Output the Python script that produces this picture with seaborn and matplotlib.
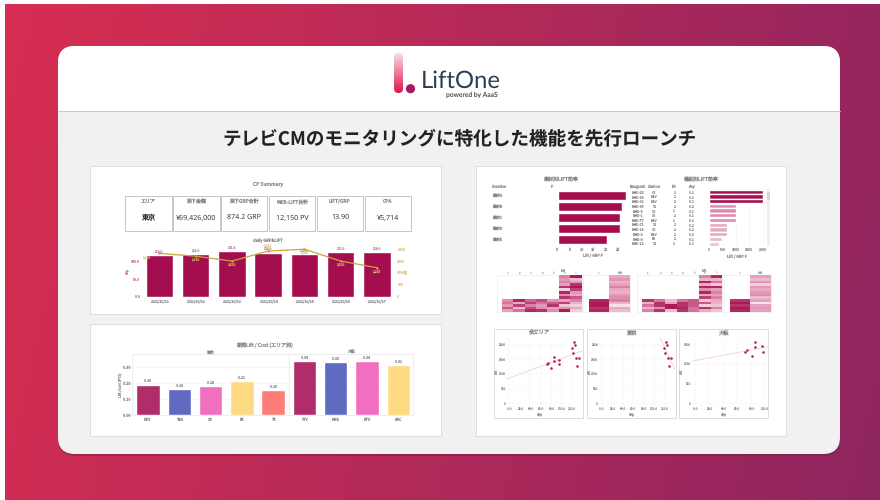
import numpy as np
import pandas as pd
import seaborn as sns
import matplotlib.pyplot as plt
from matplotlib.colors import Normalize
from matplotlib.patches import FancyBboxPatch, Rectangle, Circle

# daily chart
dates = ['2021/10/11', '2021/10/12', '2021/10/13', '2021/10/14', '2021/10/15', '2021/10/16', '2021/10/17']
grp = [119.0, 121.0, 131.3, 126.0, 123.0, 127.0, 128.0]
lift = [1830, 1710, 1500, 1930, 2010, 1500, 1215]

kpi_titles = ['エリア', '投下金額', '投下GRP合計', 'WEB-LIFT合計', 'LIFT/GRP', 'CPA']
kpi_values = ['東京', '¥69,426,000', '874.2 GRP', '12,150 PV', '13.90', '¥5,714']

# lift/cost by station
stations = ['NTV', 'TBS', 'CX', 'EX', 'TX', 'YTV', 'MBS', 'KTV', 'ABC']
lift_cost = [0.19, 0.16, 0.18, 0.21, 0.155, 0.337, 0.33, 0.335, 0.31]
station_colors = ['#B12C6A', '#5F6BC0', '#F26EBE', '#FEDB82', '#FE7D78', '#B12C6A', '#5F6BC0', '#F26EBE', '#FEDB82']

# creative / programme bars
creatives = ['素材A', '素材B', '素材C', '素材D', '素材E']
creative_lift = [28.5, 26.7, 26.2, 26.0, 20.6]
programs = ['BMD-25', 'BMD-64', 'BMD-32', 'BMD-45', 'BMD-5', 'BMD-1', 'BMD-77', 'BMD-71', 'BMD-14', 'BMD-2', 'BMD-8', 'BMD-13']
prog_station = ['CX', 'NTV', 'NTV', 'TX', 'CX', 'CX', 'NTV', 'TX', 'CX', 'NTV', 'EX', 'TX']
prog_lr = [2, 2, 2, 2, 1, 2, 1, 2, 2, 2, 2, 1]
prog_any = ['0.1', '0.1', '0.1', '0.2', '0.1', '0.1', '0.1', '0.2', '0.2', '0.3', '0.1', '0.1']
prog_lift = [2000, 2000, 2000, 1000, 1000, 1000, 1000, 650, 650, 650, 490, 375]

# heatmaps
n = np.nan
heat_a = [
    [n, n, n, n, n, .55, .95],
    [n, n, n, n, n, .45, .25],
    [n, n, n, n, n, .55, .45],
    [n, n, n, n, n, .40, .85],
    [n, n, n, n, n, .85, .95],
    [n, n, n, n, n, .15, .80],
    [n, n, n, n, n, .90, .45],
    [n, n, n, n, n, .50, .35],
    [n, n, n, n, n, .85, .70],
    [.50, .90, .65, .75, .45, .40, .55],
    [.60, .35, .80, .60, .70, .80, .30],
    [.45, .80, .55, .45, .85, .20, .15],
    [.70, .25, .75, .50, .40, .50, .35],
    [.40, .60, .90, .85, .50, .95, .15],
]
heat_a2 = [n, n, n, n, n, n, n, n, n, .9, .95, .95, .85, .9]
heat_a3 = [.35, .45, .30, .40, .55, .35, .30, .45, .50, .55, .30, .05, .35, .25]
heat_b = [
    [n, n, n, n, n, .55, .90],
    [n, n, n, n, n, .30, .30],
    [n, n, n, n, n, .90, .60],
    [n, n, n, n, n, .35, .20],
    [n, n, n, n, n, .90, .90],
    [n, n, n, n, n, .50, .40],
    [n, n, n, n, n, .90, .55],
    [n, n, n, n, n, .35, .40],
    [n, n, n, n, n, .80, .55],
    [.85, .60, .25, .60, .70, .20, .35],
    [.30, .85, .40, .85, .70, .70, .30],
    [.60, .85, .95, .85, .70, .15, .20],
    [.30, .50, .95, .90, .60, .85, .55],
    [.55, .85, .25, .85, .60, .35, .20],
]
heat_b2 = [n, n, n, n, n, n, n, n, n, .85, .95, .85, .95, .9]
heat_b3 = [.40, .25, .45, .15, .45, .35, .45, .50, .25, .40, .05, .40, .45, .40]
heat_ticks = ['1', '2', '3', '4', '5', '6', '7']

# scatter panels
all_grp = [124, 126, 119, 121, 85, 85, 94, 95.5, 74, 71, 80, 127, 132, 129]
all_lift = [2080, 1990, 1886, 1727, 1580, 1443, 1489, 1330, 1375, 1330, 1216, 1545, 1545, 1261]
tokyo_grp = [123.6, 125.5, 119, 120.5, 127, 131.5, 128.3]
tokyo_lift = [2080, 1990, 1886, 1727, 1545, 1545, 1261]
osaka_grp = [85.8, 85.8, 96, 97.5, 72, 74.6, 81.9]
osaka_lift = [1551, 1424, 1458, 1297, 1297, 1356, 1195]

CRIMSON = '#A50E4E'
CRIMSON_TXT = '#C8668E'
GOLD = '#C9A53C'
GOLD_TXT = '#D8C27E'
TXT = '#858585'

sns.set_theme(style='white')
plt.rcParams['font.family'] = ['Noto Sans CJK JP', 'DejaVu Sans']
plt.rcParams['axes.unicode_minus'] = False
plt.rcParams['text.hinting'] = 'no_hinting'

W, H = 880, 500
fig = plt.figure(figsize=(8.8, 5), dpi=100, facecolor='white')
bg = fig.add_axes([0, 0, 1, 1])
bg.axis('off')


def panel_ax(x0, y0, x1, y1):
    ax = fig.add_axes([x0 / W, 1 - y1 / H, (x1 - x0) / W, (y1 - y0) / H])
    ax.patch.set_alpha(0)
    return ax


def small(ax, size=3, color=TXT):
    ax.tick_params(labelsize=size, length=0, pad=1.5, colors=color)
    ax.set_xlabel('')
    ax.set_ylabel('')


def pale_spines(ax, color='#E8E8E8'):
    for s in ax.spines.values():
        s.set_color(color)
        s.set_linewidth(0.5)


# background gradient
gx, gy = np.meshgrid(np.linspace(0, 1, 220), np.linspace(0, 1, 125))
t = 0.88 * gx + 0.12 * gy
c0 = np.array([0xD8, 0x2E, 0x52]) / 255
c1 = np.array([0x8E, 0x25, 0x60]) / 255
grad = c0[None, None, :] * (1 - t[..., None]) + c1[None, None, :] * t[..., None]
bg.imshow(grad, extent=(5, 880, 500, 4), aspect='auto', zorder=0)

# card
bx = dict(boxstyle='round,pad=0,rounding_size=17')
bg.add_patch(FancyBboxPatch((58, 48), 782, 408, fc='#5a1a3a', ec='none', alpha=.35, zorder=1, **bx))
bg.add_patch(FancyBboxPatch((58, 46), 782, 408, fc='#F1F1F1', ec='none', zorder=2, **bx))
bg.add_patch(FancyBboxPatch((58, 46), 782, 95, fc='white', ec='none', zorder=3, **bx))
bg.add_patch(Rectangle((58, 111), 782, 40, fc='#F1F1F1', ec='none', zorder=4))
bg.plot([58, 840], [111, 111], color='#C9C9C9', lw=.7, zorder=5)

# logo
stick = FancyBboxPatch((394, 53), 9, 40, boxstyle='round,pad=0,rounding_size=4.5', fc='none', ec='none', zorder=6)
bg.add_patch(stick)
fade = np.linspace(0, 1, 60)[:, None, None]
stick_col = np.array([0xF6, 0xDD, 0xE3])[None, None, :] / 255 * (1 - fade) + np.array([0xE2, 0x12, 0x4E])[None, None, :] / 255 * fade
im = bg.imshow(stick_col, extent=(394, 403, 93, 53), aspect='auto', zorder=6)
im.set_clip_path(stick)
bg.add_patch(Circle((410.5, 88.7), 4.6, fc='#A5175F', ec='none', zorder=6))
bg.text(420.5, 81, 'LiftOne', family='Lato', fontsize=17.2, color='#2D3E55', ha='left', va='center', zorder=6)
bg.text(498, 94.5, 'powered by AaaS', family='Lato', fontsize=4.8, weight='bold', color='#4A4A4A', ha='right', va='center', zorder=6)

bg.text(459.5, 139, 'テレビCMのモニタリングに特化した機能を先行ローンチ', fontsize=13.4, weight='bold',
        color='#222222', ha='center', va='center', zorder=6)

# white sheets
for x0, y0, x1, y1 in [(91, 167, 441, 314), (91, 325, 441, 436), (477, 167, 786, 436)]:
    bg.add_patch(Rectangle((x0 - 1, y0 - 1), x1 - x0 + 2, y1 - y0 + 2, fc='#DEDEDE', ec='none', zorder=6))
    bg.add_patch(Rectangle((x0, y0), x1 - x0, y1 - y0, fc='white', ec='none', zorder=7))

# KPI boxes
bg.text(268, 184, 'CP Summary', fontsize=3.6, color=TXT, ha='center', va='center', zorder=8)
kpi_edges = [(125.3, 171.7), (173.3, 219.7), (221.3, 267.3), (269, 315.3), (317.3, 362.7), (365, 410.7)]
for (x0, x1), title, value in zip(kpi_edges, kpi_titles, kpi_values):
    bg.add_patch(Rectangle((x0, 196.3), x1 - x0, 34.4, fc='white', ec='#BDBDBD', lw=.6, zorder=8))
    bg.text((x0 + x1) / 2, 201.5, title, fontsize=3.6, color=TXT, ha='center', va='center', zorder=9)
    bg.text((x0 + x1) / 2, 217.5, value, fontsize=5.1, family=['Open Sans', 'Noto Sans CJK JP'], color='#2A2A2A',
            ha='center', va='center', zorder=9)
bg.text(268, 240.5, 'daily GRP&LIFT', fontsize=3, color=TXT, ha='center', va='center', zorder=8)

# daily bars + line
ax = panel_ax(141.7, 245, 395, 296.7)
sns.barplot(x=dates, y=grp, color=CRIMSON, saturation=1, width=.76, ax=ax)
ax.set_ylim(0, 147.6)
ax.set_yticks([0, 50, 100])
ax.set_yticklabels(['0.0', '50.0', '100.0'])
small(ax, 2.6)
ax.tick_params(axis='y', colors=CRIMSON_TXT)
ax.bar_label(ax.containers[0], fmt='%.1f', fontsize=2.4, color=CRIMSON_TXT, padding=1)
sns.despine(ax=ax, left=True, bottom=True)
ax.axhline(0, color='#E8E8E8', lw=.5, zorder=0)
ax2 = ax.twinx()
ax2.patch.set_alpha(0)
sns.lineplot(x=dates, y=lift, color=GOLD, lw=.9, marker='o', ms=1, mec=GOLD, ax=ax2, errorbar=None)
ax2.set_ylim(-30, 2190)
ax2.set_yticks([0, 500, 1000, 1500, 2000])
small(ax2, 2.6, GOLD_TXT)
sns.despine(ax=ax2, left=True, bottom=True, right=True, top=True)
# gold labels sit under the point except where the bar label is in the way
label_dy = [-4, -4, -4, 2.5, -4, -4, -4]
label_dx = [-9, 0, 0, 0, 0, 0, 0]
for i, v in enumerate(lift):
    ax2.annotate(f'{v:,}', (i, v), xytext=(label_dx[i], label_dy[i]), textcoords='offset points',
                 fontsize=2.4, color=GOLD_TXT, ha='center')
ax.set_xlim(-.49, 6.5)
bg.text(127, 271, 'Grp', fontsize=2.6, color=CRIMSON_TXT, rotation=90, ha='center', va='center', zorder=8)
bg.text(407, 271, 'Lift', fontsize=2.6, color=GOLD_TXT, rotation=90, ha='center', va='center', zorder=8)

# lift / cost bars
bg.text(265, 345, '期間Lift / Cost (エリア別)', fontsize=3.6, color=TXT, ha='center', va='center', zorder=8)
bg.text(210, 352, '東京', fontsize=2.8, color=TXT, ha='center', va='center', zorder=8)
bg.text(351, 352, '大阪', fontsize=2.8, color=TXT, ha='center', va='center', zorder=8)
bg.text(121, 385, 'Lift /cost (PTS)', fontsize=2.6, color=TXT, rotation=90, ha='center', va='center', zorder=8)
ax = panel_ax(132.3, 354.3, 413, 415)
sns.barplot(x=stations, y=lift_cost, hue=stations, palette=station_colors, saturation=1, width=.75,
            dodge=False, legend=False, ax=ax)
ax.set_ylim(0, .38)
ax.set_yticks([0, .1, .2, .3])
ax.set_yticklabels(['0.00', '0.10', '0.20', '0.30'])
ax.yaxis.grid(True, color='#F0F0F0', lw=.4)
ax.set_axisbelow(True)
small(ax, 2.8)
for c in ax.containers:
    ax.bar_label(c, fmt='%.2f', fontsize=2.6, color=TXT, padding=1)
ax.axvline(4.5, color='#E4E8F0', lw=.5)
pale_spines(ax, '#E4E8F0')
ax.set_xlim(-.5, 8.47)

# creative bars
bg.text(561, 180, '素材別LIFT効率', fontsize=3.6, color=TXT, ha='center', va='center', zorder=8)
bg.text(499, 187, 'Creative', fontsize=2.8, color=TXT, ha='center', va='center', zorder=8)
bg.text(552, 187, 'F', fontsize=2.8, color=TXT, ha='center', va='center', zorder=8)
ax = panel_ax(557.3, 190, 628, 245)
sns.barplot(y=creatives, x=creative_lift, color=CRIMSON, saturation=1, width=.8, ax=ax)
ax.set_xlim(-.1, 29.4)
ax.set_xticks([0, 5, 10, 15, 20, 25])
small(ax, 2.8)
ax.set_yticklabels([])
ax.set_xlabel('Lift / GRP F', fontsize=2.8, color=TXT, labelpad=2)
sns.despine(ax=ax, left=True, bottom=True)
for i, name in enumerate(creatives):
    bg.text(497.7, 165 + (91 + 33 * i) / 3, name, fontsize=2.8, color=TXT, ha='center', va='center', zorder=8)

# programme bars
bg.text(701, 180, '番組別LIFT効率', fontsize=3.6, color=TXT, ha='center', va='center', zorder=8)
for x, h in zip([638, 654, 673.7, 691.7], ['Bangumi', 'Station', 'LR', 'Any']):
    bg.text(x, 187, h, fontsize=2.8, color=TXT, ha='center', va='center', zorder=8)
ax = panel_ax(709.3, 189.3, 765, 246)
prog_cmap = sns.blend_palette(['#F0C6D6', '#D77FA6', CRIMSON], as_cmap=True)
prog_norm = Normalize(300, 2000)
prog_colors = [prog_cmap(prog_norm(v)) for v in prog_lift]
sns.barplot(y=programs, x=prog_lift, hue=programs, palette=prog_colors, saturation=1,
            width=.9, dodge=False, legend=False, ax=ax)
ax.set_xlim(0, 2090)
ax.set_xticks([0, 500, 1000, 1500, 2000])
small(ax, 2.6)
ax.set_yticklabels([])
ax.set_xlabel('Lift / GRP F', fontsize=2.8, color=TXT, labelpad=2)
ax.xaxis.grid(True, color='#F0F0F0', lw=.4)
ax.set_axisbelow(True)
sns.despine(ax=ax, left=True, bottom=True)
for i in range(len(programs)):
    y = 165 + (83 + 14 * i) / 3
    for x, s in zip([638, 654, 673.7, 691.7], [programs[i], prog_station[i], prog_lr[i], prog_any[i]]):
        bg.text(x, y, s, fontsize=2.5, color=TXT, ha='center', va='center', zorder=8)
bg.add_patch(Rectangle((767, 189), 3, 57, fc='#F0F0F0', ec='none', zorder=8))
bg.add_patch(Rectangle((767, 192), 3, 8, fc='#D5D5D5', ec='none', zorder=9))

# heatmaps
heat_cmap = sns.blend_palette(['#FBEAF0', '#E08DB0', '#A50E4E'], as_cmap=True)
heat_groups = [
    (501.7, 581.7, 589, 609.3, 630, 496.7, heat_a, heat_a2, heat_a3, 563),
    (642.3, 722.3, 729.7, 750, 770.7, 637.3, heat_b, heat_b2, heat_b3, 704),
]
for x0, x1, x2, x3, x4, fr, m1, m2, m3, tx in heat_groups:
    bg.text(tx, 270.5, 'Lift', fontsize=2.4, color=TXT, ha='center', va='center', zorder=8)
    bg.add_patch(Rectangle((fr, 275.3), x1 - fr, 36.7, fc='white', ec='#E6E6E6', lw=.4, zorder=8))
    bg.add_patch(Rectangle((x1 + 1.5, 275.3), x4 - x1 - 1.5, 36.7, fc='white', ec='#E6E6E6', lw=.4, zorder=8))
    for rng, mat, labels in [((x0, x1), np.array(m1), heat_ticks),
                             ((x2, x3), np.array(m2)[:, None], ['1']),
                             ((x3, x4), np.array(m3)[:, None], ['合計'])]:
        ax = panel_ax(rng[0], 275.3, rng[1], 312)
        sns.heatmap(mat, cmap=heat_cmap, vmin=0, vmax=1, cbar=False, xticklabels=labels, yticklabels=False, ax=ax)
        ax.xaxis.tick_top()
        ax.tick_params(axis='x', labelsize=2, length=0, pad=.8, colors='#A0A0A0', labelrotation=0)

# scatter panels
panels = [
    ('全エリア', all_grp, all_lift, 494.3, 583.3, 506.7, 582.7, (-5, 140), (-90, 2216), [0, 500, 1000, 1500, 2000],
     [0, 20, 40, 60, 80, 100, 120]),
    ('東京', tokyo_grp, tokyo_lift, 586.7, 675.7, 599, 675, (-5, 140), (-90, 2216), [0, 500, 1000, 1500, 2000],
     [0, 20, 40, 60, 80, 100, 120]),
    ('大阪', osaka_grp, osaka_lift, 678.7, 768.3, 691.7, 767.7, (-5, 104), (-70, 1650), [0, 500, 1000, 1500],
     [0, 20, 40, 60, 80, 100]),
]
for title, xs, ys, fx0, fx1, ax0, ax1, xlim, ylim, yt, xt in panels:
    bg.add_patch(Rectangle((fx0, 328.5), fx1 - fx0, 89, fc='white', ec='#D8D8D8', lw=.6, zorder=8))
    bg.text((fx0 + fx1) / 2, 333.5, title, fontsize=3.8, color=TXT, ha='center', va='center', zorder=9)
    bg.text((fx0 + fx1) / 2 + 1, 413.7, 'Grp', fontsize=2.6, color=TXT, ha='center', va='center', zorder=9)
    bg.text(fx0 + 2.6, 371, 'Lift', fontsize=2.4, color=TXT, rotation=90, ha='center', va='center', zorder=9)
    ax = panel_ax(ax0, 338.3, ax1, 406)
    ax.set_xlim(*xlim)
    ax.set_ylim(*ylim)
    sns.regplot(x=np.array(xs), y=np.array(ys), ci=None, truncate=False, ax=ax,
                scatter_kws=dict(color='#B5225F', s=3.5, linewidths=0, alpha=1, zorder=4),
                line_kws=dict(color='#F4CEDB', lw=.6, zorder=3))
    ax.set_xlim(*xlim)
    ax.set_ylim(*ylim)
    ax.set_yticks(yt)
    ax.set_xticks(xt)
    ax.set_xticklabels([f'{v:.1f}' for v in xt])
    ax.grid(True, color='#F3F3F3', lw=.35)
    ax.set_axisbelow(True)
    small(ax, 2.3)
    ax.tick_params(pad=.8)
    sns.despine(ax=ax, left=True, bottom=True)

bg.set_xlim(0, W)
bg.set_ylim(H, 0)
fig.savefig('out.png', dpi=100)
